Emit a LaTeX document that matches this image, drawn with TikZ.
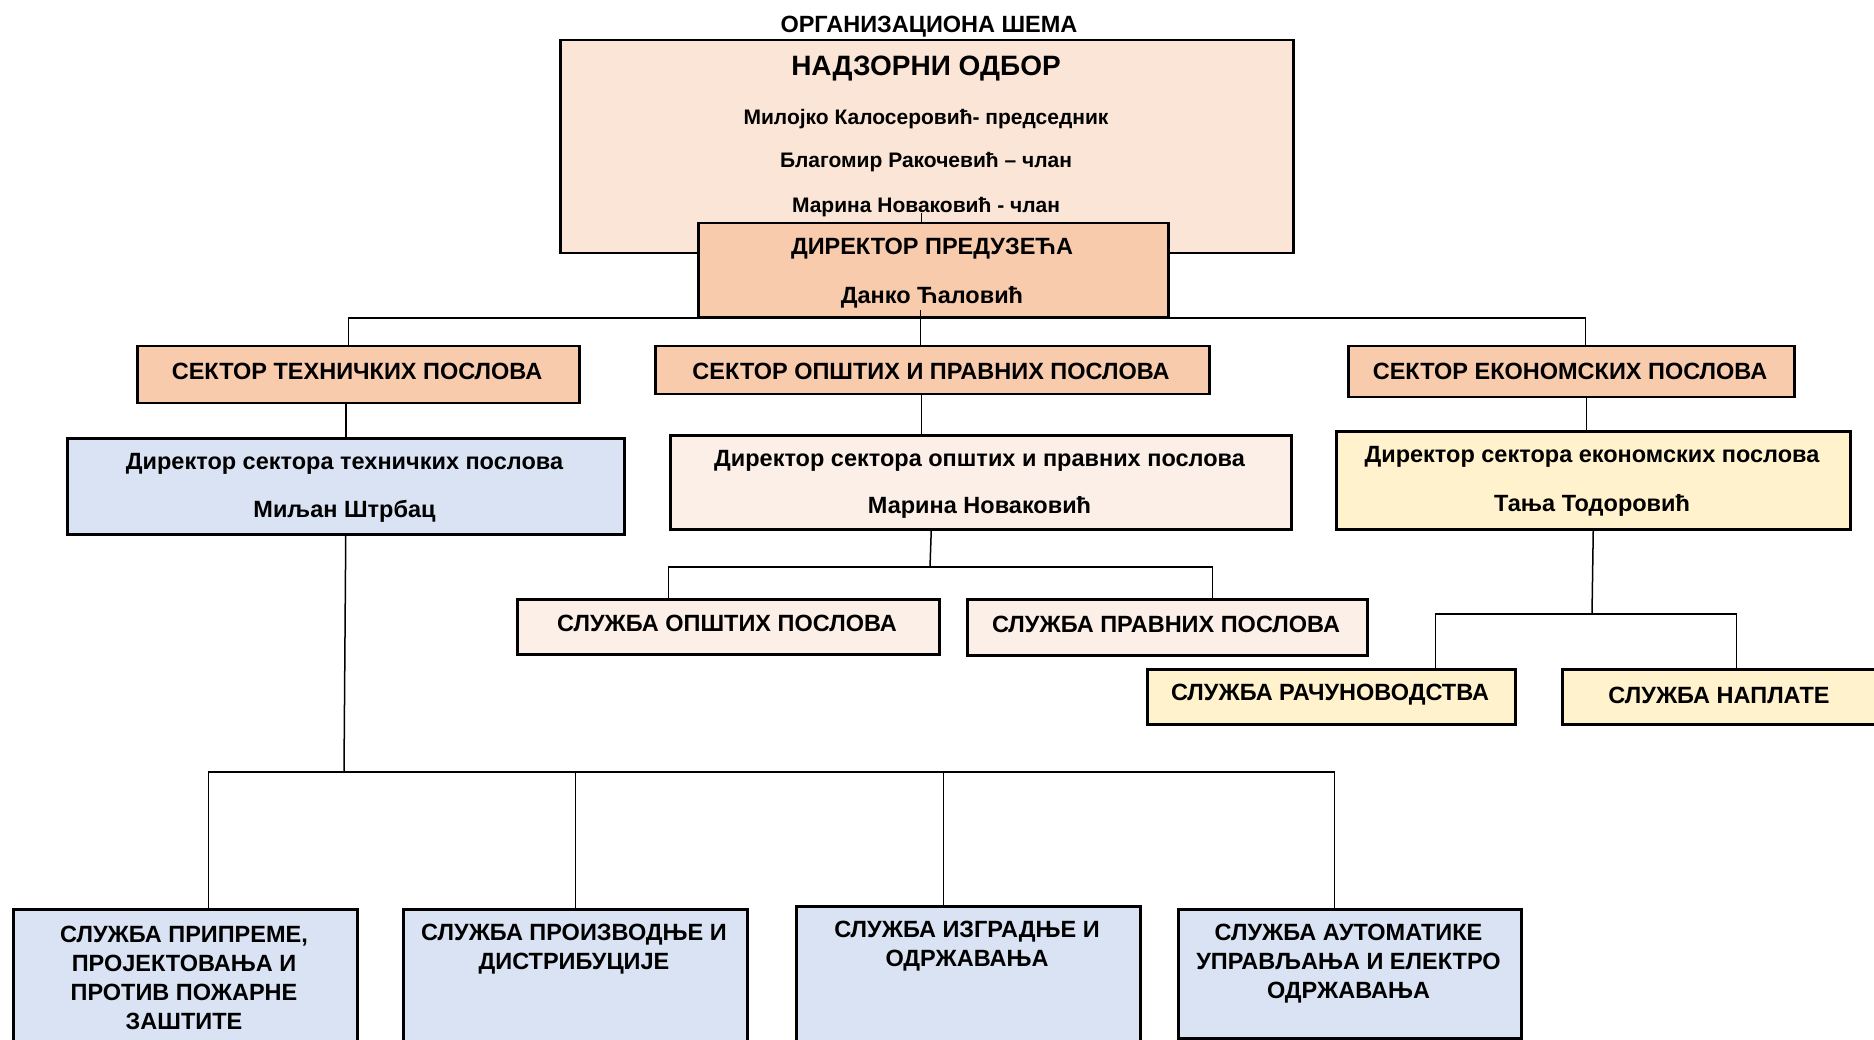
\documentclass[tikz,border=0pt]{standalone}
\usepackage{fontspec}
\setmainfont{Liberation Sans}
\usetikzlibrary{positioning}
\definecolor{boardfill}{HTML}{FBE5D6}
\definecolor{sectorfill}{HTML}{F8CBAD}
\definecolor{techfill}{HTML}{DAE3F3}
\definecolor{genfill}{HTML}{FCEFE7}
\definecolor{econfill}{HTML}{FFF2CC}

\begin{document}
\begin{tikzpicture} [
    x=1pt, y=-1pt,
    box/.style = {draw, line width=2.5pt, inner sep=0pt, anchor=north west},
    txt/.style = {font=\bfseries\fontsize{23.5}{29}\selectfont, align=center, inner sep=0pt, yshift=-3pt},
    names/.style = {font=\bfseries\fontsize{21}{24}\selectfont, inner sep=0pt, yshift=-3pt},
    link/.style = {line width=1.5pt}
]
    \useasboundingbox (0,0) rectangle (1874,1040);
    \clip (0,0) rectangle (1874,1040);

    % top: board and director
    \node[txt] (title) at (929,24) {ОРГАНИЗАЦИОНА ШЕМА};
    \node[box, fill=boardfill, minimum width=733pt, minimum height=213pt] (board) at (559,39) {};
    \node[txt, font=\bfseries\fontsize{28}{32}\selectfont] (boardname) at (926,66) {НАДЗОРНИ ОДБОР};
    \node[names] (m1) at (926,116) {Милојко Калосеровић- председник};
    \node[names] (m2) at (926,159) {Благомир Ракочевић – члан};
    \node[names] (m3) at (926,204) {Марина Новаковић - члан};

    \node[box, fill=sectorfill, minimum width=470pt, minimum height=94pt] (dir) at (697,222) {};
    \node[txt] (dirtitle) at (932,246) {ДИРЕКТОР ПРЕДУЗЕЋА};
    \node[txt] (dirname) at (932,294) {Данко Ћаловић};

    % sectors
    \node[box, fill=sectorfill, minimum width=442pt, minimum height=57pt] (sTech) at (136,345) {};
    \node[txt] at (357,368) {СЕКТОР ТЕХНИЧКИХ ПОСЛОВА};
    \node[box, fill=sectorfill, minimum width=554pt, minimum height=48pt] (sGen) at (654,345) {};
    \node[txt] at (931,368) {СЕКТОР ОПШТИХ И ПРАВНИХ ПОСЛОВА};
    \node[box, fill=sectorfill, minimum width=446pt, minimum height=51pt] (sEcon) at (1347,345) {};
    \node[txt] at (1570,368) {СЕКТОР ЕКОНОМСКИХ ПОСЛОВА};

    % sector directors
    \node[box, fill=techfill, minimum width=557pt, minimum height=96pt] (dTech) at (66,437) {};
    \node[txt] at (344.5,461) {Директор сектора техничких послова};
    \node[txt] at (344.5,508) {Миљан Штрбац};
    \node[box, fill=genfill, minimum width=621pt, minimum height=94pt] (dGen) at (669,434) {};
    \node[txt] at (979.5,458) {Директор сектора општих и правних послова};
    \node[txt] at (979.5,504) {Марина Новаковић};
    \node[box, fill=econfill, minimum width=514pt, minimum height=98pt] (dEcon) at (1335,430) {};
    \node[txt] at (1592,454) {Директор сектора економских послова};
    \node[txt] at (1592,502) {Тања Тодоровић};

    % services
    \node[box, fill=genfill, minimum width=422pt, minimum height=55pt] (gOps) at (516,598) {};
    \node[txt] at (727,620) {СЛУЖБА ОПШТИХ ПОСЛОВА};
    \node[box, fill=genfill, minimum width=400pt, minimum height=56pt] (gLaw) at (966,598) {};
    \node[txt] at (1166,621) {СЛУЖБА ПРАВНИХ ПОСЛОВА};
    \node[box, fill=econfill, minimum width=368pt, minimum height=55pt] (eAcc) at (1146,668) {};
    \node[txt] at (1330,692) {СЛУЖБА РАЧУНОВОДСТВА};
    \node[box, fill=econfill, minimum width=320pt, minimum height=55pt] (eCol) at (1561,668) {};
    \node[txt] at (1719,692) {СЛУЖБА НАПЛАТЕ};

    \node[box, fill=techfill, minimum width=344pt, minimum height=160pt] (t1) at (12,908) {};
    \node[txt] at (184,975) {СЛУЖБА ПРИПРЕМЕ,\\ПРОЈЕКТОВАЊА И\\ПРОТИВ ПОЖАРНЕ\\ЗАШТИТЕ};
    \node[box, fill=techfill, minimum width=344pt, minimum height=160pt] (t2) at (402,908) {};
    \node[txt] at (574,946.5) {СЛУЖБА ПРОИЗВОДЊЕ И\\ДИСТРИБУЦИЈЕ};
    \node[box, fill=techfill, minimum width=344pt, minimum height=165pt] (t3) at (795,905) {};
    \node[txt] at (967,943) {СЛУЖБА ИЗГРАДЊЕ И\\ОДРЖАВАЊА};
    \node[box, fill=techfill, minimum width=343pt, minimum height=129pt] (t4) at (1177,908) {};
    \node[txt] at (1348.5,961) {СЛУЖБА АУТОМАТИКЕ\\УПРАВЉАЊА И ЕЛЕКТРО\\ОДРЖАВАЊА};

    % connectors
    \coordinate (bus1) at (919,318);
    \coordinate (busGen) at (930,567);
    \coordinate (busEcon) at (1592,614);
    \coordinate (busTech) at (344,772);

    \draw[link] ([xshift=-12pt]dir.north) -- ++(0,-9);
    \draw[link] ([xshift=-13pt,yshift=8pt]dir.south) -- ([xshift=-12pt]sGen.north);
    \draw[link] ([xshift=-10pt]sTech.north) |- (bus1) -| ([xshift=14pt]sEcon.north);

    \draw[link] (dTech.north) -- (dTech.north |- sTech.south);
    \draw[link] ([xshift=-11pt]sGen.south) -- ([xshift=-11pt]sGen.south |- dGen.north);
    \draw[link] ([xshift=-7pt]dEcon.north) -- ([xshift=-7pt]dEcon.north |- sEcon.south);

    \draw[link] ([xshift=-49.5pt]dGen.south) -- (busGen);
    \draw[link] ([xshift=-60pt]gOps.north) |- (busGen) -| ([xshift=45pt]gLaw.north);

    \draw[link] (dEcon.south) -- (busEcon);
    \draw[link] ([xshift=104pt]eAcc.north) |- (busEcon) -| ([xshift=14pt]eCol.north);

    \draw[link] (dTech.south) -- (busTech);
    \draw[link] ([xshift=23pt]t1.north) |- (busTech) -| ([xshift=-15.5pt]t4.north);
    \draw[link] (t2.north) -- (t2.north |- busTech);
    \draw[link] ([xshift=-25pt]t3.north) -- ([xshift=-25pt]t3.north |- busTech);
\end{tikzpicture}
\end{document}
